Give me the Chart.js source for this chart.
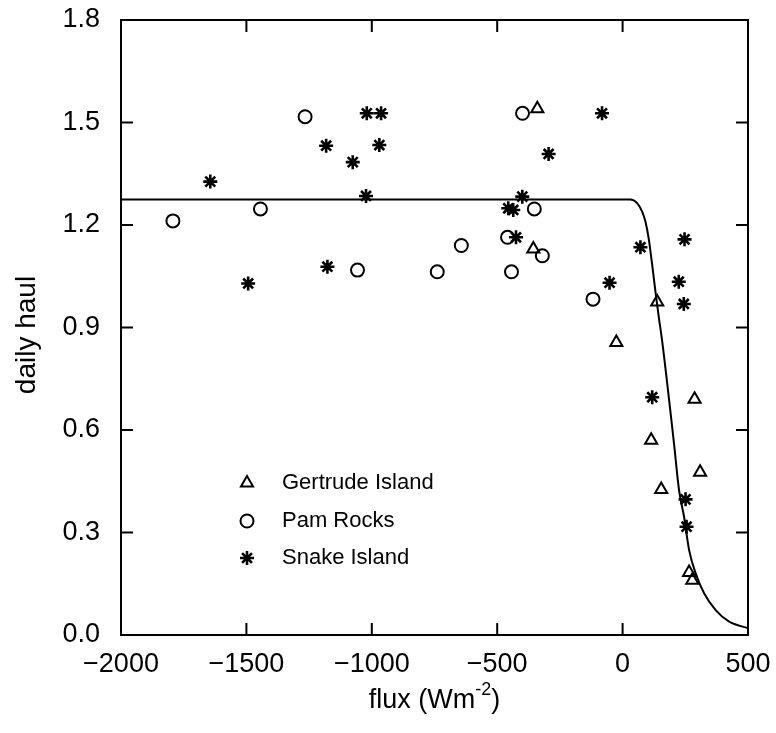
<!DOCTYPE html>
<html>
<head>
<meta charset="utf-8">
<script src="https://cdn.jsdelivr.net/npm/chart.js@4.4.1/dist/chart.umd.min.js"></script>
<style>
  html, body { margin: 0; padding: 0; background: #fff; }
</style>
</head>
<body>
<canvas id="chart" width="776" height="733"></canvas>
<script>
// axis ticks
const fluxTicks = [-2000, -1500, -1000, -500, 0, 500];
const haulTicks = [0, 0.3, 0.6, 0.9, 1.2, 1.5, 1.8];

// Gertrude Island
const gertrudeFlux = [-340, -356, 138, -25, 287, 114, 309, 154, 265, 278];
const gertrudeHaul = [1.54, 1.13, 0.975, 0.856, 0.69, 0.57, 0.476, 0.426, 0.183, 0.16];

// Pam Rocks
const pamFlux = [-1793, -1444, -1266, -1057, -739, -643, -459, -443, -399, -352, -320, -118];
const pamHaul = [1.212, 1.247, 1.517, 1.068, 1.063, 1.14, 1.164, 1.063, 1.527, 1.247, 1.11, 0.983];

// Snake Island
const snakeFlux = [-1644, -1493, -1182, -1177, -1076, -1023, -1020, -970, -963, -456, -436, -425,
                   -400, -295, -82, -52, 71, 118, 224, 244, 247, 251, 255];
const snakeHaul = [1.327, 1.029, 1.432, 1.078, 1.384, 1.285, 1.527, 1.434, 1.527, 1.249, 1.244, 1.164,
                   1.283, 1.408, 1.527, 1.031, 1.135, 0.696, 1.034, 0.969, 1.158, 0.397, 0.317];

// fitted curve
const fitFlux = [-2000, 31, 58, 78, 91, 104, 118, 131, 145, 158, 205, 225, 245, 265, 291, 325, 371, 425, 500];
const fitHaul = [1.275, 1.275, 1.264, 1.239, 1.21, 1.161, 1.083, 1.005, 0.927, 0.859, 0.56, 0.424, 0.346, 0.249, 0.181, 0.122, 0.073, 0.039, 0.02];

const FONT = "'Liberation Sans', Arial, sans-serif";

const pts = (xs, ys) => xs.map((x, i) => ({ x, y: ys[i] }));

const series = [
  { label: 'Gertrude Island', data: pts(gertrudeFlux, gertrudeHaul), pointStyle: 'triangle', pointRadius: 7, pointBorderWidth: 2 },
  { label: 'Pam Rocks', data: pts(pamFlux, pamHaul), pointStyle: 'circle', pointRadius: 6.5, pointBorderWidth: 2 },
  { label: 'Snake Island', data: pts(snakeFlux, snakeHaul), pointStyle: 'star', pointRadius: 7, pointBorderWidth: 2.6 }
];

// box around the plot with ticks pointing in on all four sides
const framePlugin = {
  id: 'frame',
  afterDatasetsDraw(chart) {
    const { ctx, chartArea: a, scales } = chart;
    const len = 12;
    ctx.save();
    ctx.strokeStyle = '#000';
    ctx.lineWidth = 2;
    ctx.strokeRect(a.left, a.top, a.right - a.left, a.bottom - a.top);
    ctx.beginPath();
    scales.x.ticks.forEach(t => {
      const px = scales.x.getPixelForValue(t.value);
      ctx.moveTo(px, a.bottom); ctx.lineTo(px, a.bottom - len);
      ctx.moveTo(px, a.top); ctx.lineTo(px, a.top + len);
    });
    scales.y.ticks.forEach(t => {
      const py = scales.y.getPixelForValue(t.value);
      ctx.moveTo(a.left, py); ctx.lineTo(a.left + len, py);
      ctx.moveTo(a.right, py); ctx.lineTo(a.right - len, py);
    });
    ctx.stroke();
    ctx.restore();
  }
};

// axis titles and the in-plot key
const labelsPlugin = {
  id: 'labels',
  afterDraw(chart) {
    const { ctx, chartArea: a } = chart;
    ctx.save();
    ctx.fillStyle = '#000';
    ctx.textBaseline = 'middle';

    // x title with superscript
    const main = 'flux (Wm';
    const sup = '-2';
    const tail = ')';
    ctx.font = '27px ' + FONT;
    const w1 = ctx.measureText(main).width;
    const w3 = ctx.measureText(tail).width;
    ctx.font = '18px ' + FONT;
    const w2 = ctx.measureText(sup).width;
    let x = (a.left + a.right) / 2 - (w1 + w2 + w3) / 2;
    const y = 701;
    ctx.textAlign = 'left';
    ctx.font = '27px ' + FONT;
    ctx.fillText(main, x, y);
    x += w1;
    ctx.font = '18px ' + FONT;
    ctx.fillText(sup, x, y - 11);
    x += w2;
    ctx.font = '27px ' + FONT;
    ctx.fillText(tail, x, y);

    // y title
    ctx.translate(27, 335);
    ctx.rotate(-Math.PI / 2);
    ctx.textAlign = 'center';
    ctx.font = '28px ' + FONT;
    ctx.fillText('daily haul', 0, 0);
    ctx.restore();

    // key
    ctx.save();
    ctx.strokeStyle = '#000';
    ctx.fillStyle = 'rgba(0,0,0,0)';
    const rows = [483, 521, 558];
    chart.data.datasets.slice(0, 3).forEach((ds, i) => {
      ctx.lineWidth = ds.pointBorderWidth;
      Chart.helpers.drawPoint(ctx, {
        pointStyle: ds.pointStyle,
        radius: ds.pointRadius,
        rotation: 0,
        borderWidth: ds.pointBorderWidth
      }, 247, rows[i]);
    });
    ctx.fillStyle = '#000';
    ctx.font = '22px ' + FONT;
    ctx.textAlign = 'left';
    ctx.textBaseline = 'middle';
    chart.data.datasets.slice(0, 3).forEach((ds, i) => {
      ctx.fillText(ds.label, 282, rows[i]);
    });
    ctx.restore();
  }
};

const ctx = document.getElementById('chart').getContext('2d');
const chart = new Chart(ctx, {
  type: 'scatter',
  data: {
    datasets: [
      ...series.map(s => ({
        ...s,
        showLine: false,
        borderColor: '#000',
        backgroundColor: 'rgba(0,0,0,0)',
        pointBorderColor: '#000',
        pointBackgroundColor: 'rgba(0,0,0,0)'
      })),
      {
        label: 'fit',
        data: pts(fitFlux, fitHaul),
        showLine: true,
        borderColor: '#000',
        borderWidth: 2,
        pointRadius: 0,
        cubicInterpolationMode: 'monotone'
      }
    ]
  },
  options: {
    responsive: false,
    animation: false,
    devicePixelRatio: 1,
    layout: { padding: { left: 0, top: 20, right: 28, bottom: 0 } },
    plugins: {
      legend: { display: false },
      tooltip: { enabled: false }
    },
    scales: {
      x: {
        type: 'linear',
        min: -2000,
        max: 500,
        afterBuildTicks: s => { s.ticks = fluxTicks.map(v => ({ value: v })); },
        afterFit: s => { s.height = 98; s.paddingLeft = 0; s.paddingRight = 0; },
        grid: { display: false, drawTicks: false },
        border: { display: false },
        ticks: {
          color: '#000',
          font: { family: FONT, size: 27 },
          padding: 13,
          maxRotation: 0,
          callback: v => String(v).replace('-', '\u2212')
        }
      },
      y: {
        type: 'linear',
        min: 0,
        max: 1.8,
        afterBuildTicks: s => { s.ticks = haulTicks.map(v => ({ value: v })); },
        afterFit: s => { s.width = 121; s.paddingTop = 0; s.paddingBottom = 0; },
        grid: { display: false, drawTicks: false },
        border: { display: false },
        ticks: {
          color: '#000',
          font: { family: FONT, size: 27 },
          padding: 21,
          callback: v => v.toFixed(1)
        }
      }
    }
  },
  plugins: [framePlugin, labelsPlugin]
});
</script>
</body>
</html>
